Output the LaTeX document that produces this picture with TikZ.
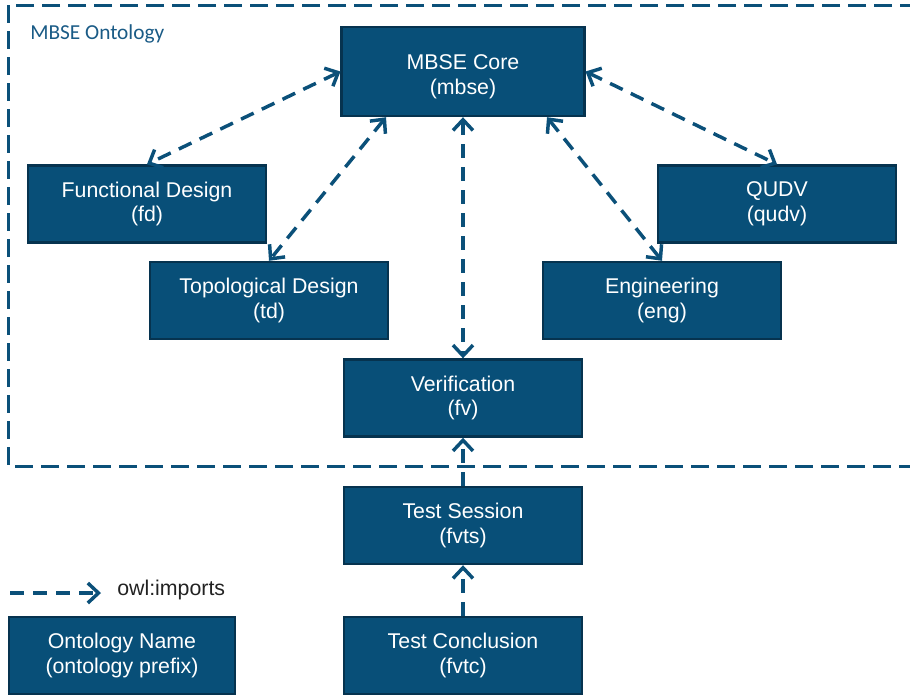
\documentclass[tikz,border=0pt]{standalone}
\usepackage{fontspec}
\setmainfont{Liberation Sans}
\newfontfamily\calibri{Carlito}
\usetikzlibrary{arrows.meta}

\definecolor{ontofill}{HTML}{084F78}
\definecolor{ontoedge}{HTML}{06334F}
\definecolor{importline}{HTML}{0B5079}
\definecolor{groupblue}{HTML}{1A5B86}
\definecolor{keytext}{HTML}{222222}

\tikzset{
  onto/.style={draw=ontoedge, line width=1.8pt, fill=ontofill, text=white, align=center,
    minimum width=178.5pt, minimum height=57.75pt, inner sep=2pt,
    font=\fontsize{16}{18.5}\selectfont},
  imports/.style={importline, line width=2.6pt, dash pattern=on 10.5pt off 6.75pt,
    >={Straight Barb[length=8pt,width=15pt]}},
  group/.style={importline, line width=2.25pt, dash pattern=on 13.5pt off 6pt},
}

\begin{document}
\begin{tikzpicture}[x=0.75pt,y=-0.75pt]
\clip (0,0) rectangle (910,694);

% ontology group frame
\draw[group] (8,5) rectangle (925,466);
\path (30,34) node[anchor=west, inner sep=0pt, text=groupblue, font=\calibri\fontsize{16}{18}\selectfont](grouplabel){MBSE Ontology};

\path (463,71.5) node[onto, minimum width=182pt, minimum height=66.75pt](core){\rule{0pt}{19pt}MBSE Core\\(mbse)} (147,204) node[onto](fd){Functional Design\\(fd)} (777,204) node[onto](qudv){QUDV\\(qudv)} (269,300.5) node[onto](td){Topological Design\\(td)} (662,300.5) node[onto](eng){Engineering\\(eng)} (463,398) node[onto](fv){Verification\\(fv)} (463,525.5) node[onto](fvts){Test Session\\(fvts)} (463,655.5) node[onto](fvtc){Test Conclusion\\(fvtc)} (122,655.5) node[onto, minimum width=169.5pt](key){Ontology Name\\(ontology prefix)};

\draw[imports,<->] (core.west) -- (fd.north);
\draw[imports,<->] ([xshift=-57.75pt]core.south) -- (td.north);
\draw[imports,<->] (core.south) -- (fv.north);
\draw[imports,<->] ([xshift=63pt]core.south) -- (eng.north);
\draw[imports,<->] (core.east) -- (qudv.north);
\draw[imports,->] (fvts.north) -- (fv.south);
\draw[imports,->] (fvtc.north) -- (fvts.south);

% legend
\coordinate (keystart) at (10,593);
\coordinate (keyend) at (101,593);
\draw[imports,->] (keystart) -- (keyend);
\path (117,590) node[anchor=west, inner sep=0pt, text=keytext, font=\fontsize{16}{18}\selectfont](keylabel){owl:imports};
\end{tikzpicture}
\end{document}
